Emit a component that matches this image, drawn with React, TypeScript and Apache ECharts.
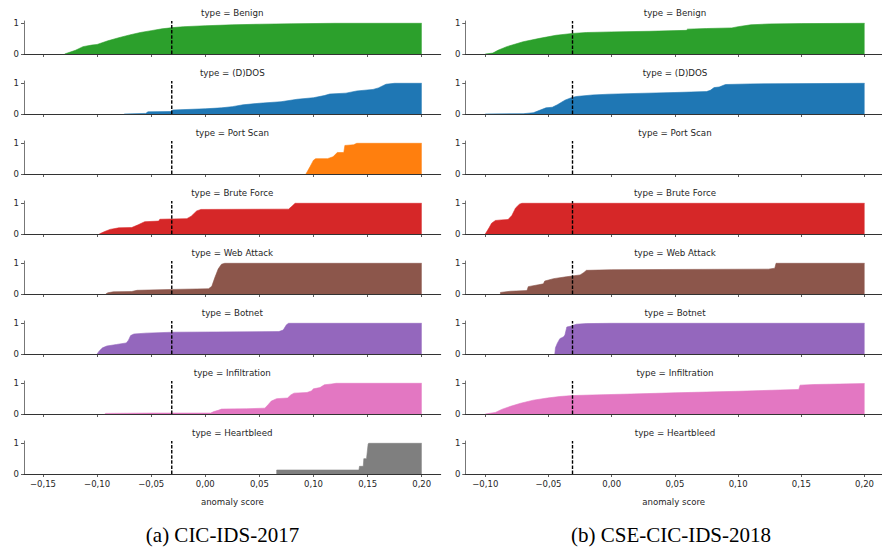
import React, { useEffect, useRef } from "react";
import * as echarts from "echarts";

type Pt = [number, number];

const TYPES = ["Benign", "(D)DOS", "Port Scan", "Brute Force", "Web Attack", "Botnet", "Infiltration", "Heartbleed"];
const COLORS = ["#2ca02c", "#1f77b4", "#ff7f0e", "#d62728", "#8c564b", "#9467bd", "#e377c2", "#7f7f7f"];
const THRESHOLD = -0.031;
const TICKS_2017 = [-0.15, -0.1, -0.05, 0, 0.05, 0.1, 0.15, 0.2];
const TICKS_2018 = [-0.1, -0.05, 0, 0.05, 0.1, 0.15, 0.2];
const Y_TICKS = [0, 1];
const CAPTIONS = ["(a) CIC-IDS-2017", "(b) CSE-CIC-IDS-2018"];
const X_LABEL = "anomaly score";

// CIC-IDS-2017 (ECDF of anomaly score per attack type)
const BENIGN_17: Pt[] = [[-0.13, 0], [-0.12, 0.12], [-0.113, 0.24], [-0.105, 0.29], [-0.1, 0.31], [-0.09, 0.43], [-0.08, 0.53], [-0.07, 0.62], [-0.06, 0.7], [-0.05, 0.76], [-0.04, 0.82], [-0.03, 0.86], [-0.02, 0.89], [0, 0.92], [0.025, 0.95], [0.05, 0.97], [0.08, 0.985], [0.12, 1], [0.2, 1]];
const DDOS_17: Pt[] = [[-0.075, 0], [-0.055, 0.02], [-0.053, 0.07], [-0.032, 0.08], [-0.03, 0.13], [0, 0.17], [0.015, 0.2], [0.025, 0.24], [0.035, 0.3], [0.05, 0.35], [0.07, 0.4], [0.085, 0.48], [0.1, 0.53], [0.11, 0.6], [0.115, 0.65], [0.13, 0.68], [0.14, 0.75], [0.155, 0.8], [0.16, 0.85], [0.167, 0.97], [0.175, 1], [0.2, 1]];
const PORTSCAN_17: Pt[] = [[0.093, 0], [0.097, 0.25], [0.1, 0.45], [0.102, 0.5], [0.113, 0.5], [0.118, 0.56], [0.122, 0.7], [0.128, 0.7], [0.129, 0.93], [0.137, 0.95], [0.14, 1], [0.2, 1]];
const BRUTE_17: Pt[] = [[-0.098, 0], [-0.093, 0.08], [-0.088, 0.15], [-0.08, 0.2], [-0.068, 0.21], [-0.062, 0.3], [-0.056, 0.4], [-0.043, 0.42], [-0.042, 0.48], [-0.017, 0.5], [-0.013, 0.58], [-0.008, 0.75], [-0.004, 0.8], [0.077, 0.81], [0.08, 0.9], [0.083, 1], [0.2, 1]];
const WEB_17: Pt[] = [[-0.092, 0], [-0.09, 0.04], [-0.085, 0.07], [-0.068, 0.08], [-0.063, 0.12], [-0.03, 0.15], [0.003, 0.17], [0.006, 0.25], [0.009, 0.55], [0.012, 0.82], [0.015, 0.97], [0.018, 1], [0.2, 1]];
const BOTNET_17: Pt[] = [[-0.1, 0], [-0.098, 0.1], [-0.095, 0.2], [-0.091, 0.26], [-0.082, 0.31], [-0.073, 0.36], [-0.071, 0.45], [-0.069, 0.6], [-0.066, 0.65], [-0.055, 0.68], [-0.03, 0.71], [0.068, 0.73], [0.072, 0.78], [0.075, 0.95], [0.077, 1], [0.2, 1]];
const INFIL_17: Pt[] = [[-0.093, 0], [-0.092, 0.02], [-0.05, 0.03], [0.005, 0.03], [0.008, 0.08], [0.012, 0.12], [0.015, 0.16], [0.038, 0.17], [0.055, 0.19], [0.058, 0.3], [0.061, 0.42], [0.066, 0.5], [0.076, 0.52], [0.079, 0.62], [0.082, 0.68], [0.094, 0.7], [0.098, 0.75], [0.1, 0.82], [0.106, 0.86], [0.11, 0.95], [0.117, 0.98], [0.121, 1], [0.2, 1]];
const HEART_17: Pt[] = [[0.066, 0], [0.066, 0.13], [0.142, 0.13], [0.1425, 0.25], [0.146, 0.25], [0.1465, 0.5], [0.149, 0.5], [0.1505, 0.98], [0.151, 1], [0.2, 1]];

// CSE-CIC-IDS-2018
const BENIGN_18: Pt[] = [[-0.1, 0], [-0.094, 0.03], [-0.09, 0.12], [-0.083, 0.24], [-0.07, 0.4], [-0.057, 0.51], [-0.044, 0.61], [-0.031, 0.67], [-0.02, 0.7], [0, 0.72], [0.03, 0.74], [0.059, 0.77], [0.06, 0.81], [0.075, 0.83], [0.095, 0.85], [0.1, 0.89], [0.11, 0.95], [0.125, 0.98], [0.15, 0.99], [0.2, 1]];
const DDOS_18: Pt[] = [[-0.1, 0], [-0.07, 0.01], [-0.062, 0.04], [-0.057, 0.12], [-0.052, 0.2], [-0.047, 0.22], [-0.043, 0.3], [-0.037, 0.45], [-0.032, 0.53], [-0.028, 0.57], [-0.015, 0.62], [-0.002, 0.645], [0.02, 0.67], [0.05, 0.7], [0.075, 0.73], [0.078, 0.77], [0.081, 0.86], [0.085, 0.88], [0.09, 0.96], [0.11, 0.98], [0.2, 1]];
const PORTSCAN_18: Pt[] = [];
const BRUTE_18: Pt[] = [[-0.1, 0], [-0.097, 0.2], [-0.095, 0.35], [-0.092, 0.44], [-0.087, 0.46], [-0.082, 0.47], [-0.079, 0.6], [-0.076, 0.85], [-0.073, 0.97], [-0.071, 1], [0.2, 1]];
const WEB_18: Pt[] = [[-0.088, 0], [-0.088, 0.05], [-0.08, 0.09], [-0.067, 0.11], [-0.066, 0.24], [-0.058, 0.3], [-0.054, 0.33], [-0.053, 0.42], [-0.046, 0.5], [-0.036, 0.56], [-0.025, 0.62], [-0.022, 0.7], [-0.02, 0.77], [0, 0.79], [0.05, 0.8], [0.124, 0.81], [0.129, 0.84], [0.13, 1], [0.2, 1]];
const BOTNET_18: Pt[] = [[-0.045, 0], [-0.0445, 0.2], [-0.043, 0.35], [-0.041, 0.5], [-0.038, 0.56], [-0.037, 0.62], [-0.0355, 0.88], [-0.032, 0.91], [-0.028, 0.97], [-0.02, 0.99], [0, 1], [0.2, 1]];
const INFIL_18: Pt[] = [[-0.1, 0], [-0.092, 0.05], [-0.087, 0.15], [-0.08, 0.25], [-0.072, 0.35], [-0.062, 0.45], [-0.051, 0.52], [-0.041, 0.57], [-0.031, 0.6], [-0.015, 0.62], [0.015, 0.65], [0.05, 0.69], [0.1, 0.74], [0.148, 0.8], [0.149, 0.94], [0.16, 0.96], [0.2, 0.99]];
const HEART_18: Pt[] = [];

const IDS_2017 = [BENIGN_17, DDOS_17, PORTSCAN_17, BRUTE_17, WEB_17, BOTNET_17, INFIL_17, HEART_17];
const IDS_2018 = [BENIGN_18, DDOS_18, PORTSCAN_18, BRUTE_18, WEB_18, BOTNET_18, INFIL_18, HEART_18];

const SANS = "DejaVu Sans";
const TXT = "#262626";
const Y_MAX = 1.075;

const PANELS = [
  { left: 24, width: 416.7, min: -0.16756, max: 0.21756, ticks: TICKS_2017, data: IDS_2017, capX: 222.5, titleX: 232.3 },
  { left: 465.3, width: 416.7, min: -0.1158, max: 0.2138, ticks: TICKS_2018, data: IDS_2018, capX: 671, titleX: 675 },
];

const fmt = (v: number) => (v < -1e-9 ? "\u2212" : "") + Math.abs(v).toFixed(2).replace(".", ",");

export default function App() {
  const ref = useRef<HTMLDivElement>(null);
  useEffect(() => {
    if (!ref.current) return;
    const chart = echarts.init(ref.current, undefined, { renderer: "svg" });
    const grid: any[] = [];
    const xAxis: any[] = [];
    const yAxis: any[] = [];
    const series: any[] = [];
    const graphic: any[] = [];
    PANELS.forEach((p, pi) => {
      TYPES.forEach((t, k) => {
        const g = pi * 8 + k;
        const top = 21 + 60 * k;
        grid.push({ left: p.left, top, width: p.width, height: 33, containLabel: false });
        const last = k === TYPES.length - 1;
        xAxis.push({
          gridIndex: g, type: "value", min: p.min, max: p.max,
          axisLine: { show: true, onZero: false, lineStyle: { color: "#333", width: 1 } },
          axisTick: { show: true, length: 3, customValues: p.ticks, lineStyle: { color: "#333", width: 0.8 } },
          axisLabel: { show: last, customValues: p.ticks, formatter: fmt, fontSize: 8.5, fontFamily: SANS, color: TXT, margin: 5 },
          splitLine: { show: false },
          name: last ? X_LABEL : "", nameLocation: "middle", nameGap: 23,
          nameTextStyle: { fontSize: 8.6, fontFamily: SANS, color: TXT },
        });
        yAxis.push({
          gridIndex: g, type: "value", min: 0, max: Y_MAX,
          axisLine: { show: true, onZero: false, lineStyle: { color: "#777", width: 1 } },
          axisTick: { show: true, length: 3, customValues: Y_TICKS, lineStyle: { color: "#333", width: 0.8 } },
          axisLabel: { customValues: Y_TICKS, fontSize: 8.5, fontFamily: SANS, color: TXT, margin: 5 },
          splitLine: { show: false },
        });
        const d = p.data[k];
        if (d.length) {
          series.push({
            type: "line", xAxisIndex: g, yAxisIndex: g, data: d, symbol: "none", silent: true, z: 2,
            lineStyle: { width: 0.6, color: COLORS[k] }, itemStyle: { color: COLORS[k] },
            areaStyle: { color: COLORS[k], opacity: 1 },
          });
        }
        series.push({
          type: "line", xAxisIndex: g, yAxisIndex: g, data: [[THRESHOLD, 0], [THRESHOLD, Y_MAX]],
          symbol: "none", silent: true, z: 3,
          lineStyle: { type: [3.5, 1.6], color: "#000", width: 1.4 },
        });
        graphic.push({
          type: "text", x: p.titleX, y: top - 7.7,
          style: { text: "type = " + t, fontSize: 8.7, fontFamily: SANS, fill: TXT, align: "center", verticalAlign: "middle" },
        });
      });
      graphic.push({
        type: "text", x: p.capX, y: 535,
        style: { text: CAPTIONS[pi], fontSize: 21, fontFamily: "Liberation Serif", fill: "#000", align: "center", verticalAlign: "middle" },
      });
    });
    chart.setOption({ animation: false, backgroundColor: "#fff", grid, xAxis, yAxis, series, graphic });
    return () => chart.dispose();
  }, []);
  return <div ref={ref} style={{ position: "absolute", left: 0, top: 0, width: 882, height: 549 }} />;
}
